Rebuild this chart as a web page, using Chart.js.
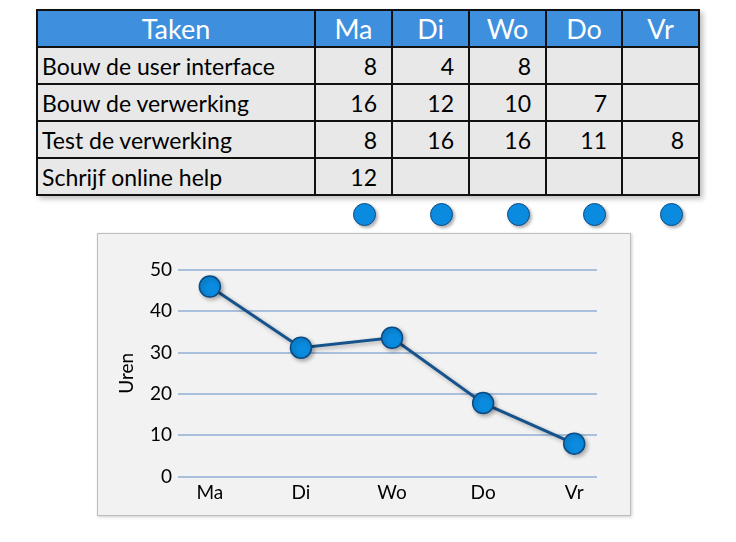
<!DOCTYPE html>
<html>
<head>
<meta charset="utf-8">
<script src="https://cdn.jsdelivr.net/npm/chart.js@4"></script>
<style>
    body { margin: 0; background: #fff; font-family: 'Gill Sans', Lato, 'Open Sans', sans-serif; }
    #page { position: relative; width: 736px; height: 542px; overflow: hidden; }
    table { position: absolute; left: 36px; top: 9px; border-collapse: collapse; table-layout: fixed;
            box-shadow: 3px 3px 5px rgba(0, 0, 0, 0.25); }
    th, td { border: 2px solid #111; padding: 0; overflow: hidden; white-space: nowrap; }
    th { background: #3e8fdd; color: #fff; font-weight: normal; font-size: 27px; text-align: center; }
    td { background: #e8e8e8; font-size: 23px; color: #000; }
    tr { height: 37px; }
    td.task { text-align: left; padding-left: 4px; }
    td.num { text-align: right; padding-right: 14px; }
    .dot { position: absolute; width: 21px; height: 21px; border-radius: 50%; background: #0a8be0;
           border: 1.5px solid #0d4a82; box-shadow: 2px 2px 3px rgba(0, 0, 0, 0.3); }
    #chartBox { position: absolute; left: 97px; top: 233px; width: 532px; height: 281px;
                background: #f2f2f2; border: 1px solid #bdbdbd; box-shadow: 1px 1px 3px rgba(0, 0, 0, 0.2); }
</style>
</head>
<body>
<div id="page">
    <table id="taskTable">
        <colgroup>
            <col style="width:278px"><col style="width:77px"><col style="width:77px">
            <col style="width:77px"><col style="width:76px"><col style="width:77px">
        </colgroup>
        <thead><tr id="headRow"></tr></thead>
        <tbody id="taskBody"></tbody>
    </table>
    <div id="chartBox"><canvas id="hoursChart" width="532" height="281"></canvas></div>
</div>
<script>
const days = ['Ma', 'Di', 'Wo', 'Do', 'Vr'];
const tasks = ['Bouw de user interface', 'Bouw de verwerking', 'Test de verwerking', 'Schrijf online help'];
const userInterfaceHours = [8, 4, 8, null, null];
const processingHours = [16, 12, 10, 7, null];
const testHours = [8, 16, 16, 11, 8];
const helpHours = [12, null, null, null, null];
const totalHours = [46, 31.2, 33.6, 17.8, 8];
const yTicks = [0, 10, 20, 30, 40, 50];

const FONT = "'Gill Sans', Lato, 'Open Sans', sans-serif";

function buildTable() {
    const head = document.getElementById('headRow');
    head.innerHTML = '<th>Taken</th>' + days.map(d => `<th>${d}</th>`).join('');

    const rows = [userInterfaceHours, processingHours, testHours, helpHours];
    const tbody = document.getElementById('taskBody');
    tasks.forEach((task, i) => {
        const tr = document.createElement('tr');
        tr.innerHTML = `<td class="task">${task}</td>` +
            rows[i].map(v => `<td class="num">${v === null ? '' : v}</td>`).join('');
        tbody.appendChild(tr);
    });

    // blue markers under each day column
    const page = document.getElementById('page');
    const pageBox = page.getBoundingClientRect();
    head.querySelectorAll('th').forEach((th, i) => {
        if (i === 0) return;
        const r = th.getBoundingClientRect();
        const dot = document.createElement('div');
        dot.className = 'dot';
        dot.style.left = (r.right - pageBox.left - 27 - 12) + 'px';
        dot.style.top = (215 - 12) + 'px';
        page.appendChild(dot);
    });
}

// drop shadow under the line and points
const shadowPlugin = {
    id: 'shadow',
    beforeDatasetsDraw(chart) {
        const ctx = chart.ctx;
        ctx.save();
        ctx.shadowColor = 'rgba(0, 0, 0, 0.3)';
        ctx.shadowBlur = 4;
        ctx.shadowOffsetX = 2;
        ctx.shadowOffsetY = 2;
    },
    afterDatasetsDraw(chart) {
        chart.ctx.restore();
    }
};

function initializeChart() {
    new Chart(document.getElementById('hoursChart').getContext('2d'), {
        type: 'line',
        data: {
            datasets: [{
                data: totalHours.map((v, i) => ({ x: i, y: v })),
                borderColor: '#16528c',
                borderWidth: 3,
                pointRadius: 10.5,
                pointBackgroundColor: '#0a8be0',
                pointBorderColor: '#0d4a82',
                pointBorderWidth: 1.5,
                tension: 0,
                clip: false
            }]
        },
        options: {
            responsive: false,
            animation: false,
            layout: { padding: { left: 13, top: 36, right: 33, bottom: 0 } },
            plugins: { legend: { display: false }, tooltip: { enabled: false } },
            scales: {
                x: {
                    type: 'linear',
                    min: -0.35,
                    max: 4.25,
                    grid: { display: false },
                    border: { display: false },
                    afterBuildTicks: scale => { scale.ticks = days.map((d, i) => ({ value: i })); },
                    afterFit: scale => { scale.height = 38.3; },
                    ticks: {
                        autoSkip: false,
                        maxRotation: 0,
                        padding: -3,
                        color: '#000',
                        font: { family: FONT, size: 19 },
                        callback: value => days[value]
                    }
                },
                y: {
                    min: 0,
                    max: 50,
                    afterBuildTicks: scale => { scale.ticks = yTicks.map(v => ({ value: v })); },
                    afterFit: scale => { scale.width = 67; },
                    grid: { color: '#a9c0dc', lineWidth: 2, drawTicks: false },
                    border: { display: false },
                    ticks: { padding: 6, color: '#000', font: { family: FONT, size: 19 } },
                    title: {
                        display: true,
                        text: 'Uren',
                        color: '#000',
                        font: { family: FONT, size: 19 },
                        padding: { top: 4, bottom: 4 }
                    }
                }
            }
        },
        plugins: [shadowPlugin]
    });
}

document.addEventListener('DOMContentLoaded', () => {
    buildTable();
    initializeChart();
});
</script>
</body>
</html>
